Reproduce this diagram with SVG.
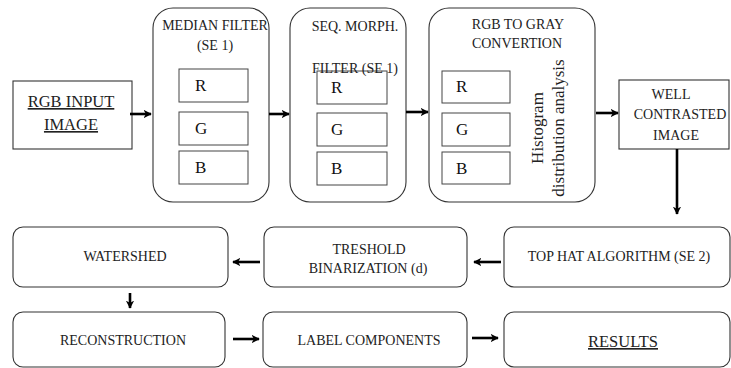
<svg xmlns="http://www.w3.org/2000/svg" width="731" height="368" viewBox="0 0 731 368">
  <defs>
    <marker id="ah" viewBox="0 0 10 10" refX="9" refY="5" markerWidth="3.2" markerHeight="3.2" orient="auto" markerUnits="strokeWidth">
      <path d="M0,0 L10,5 L0,10 L3,5 z" fill="#000"/>
    </marker>
  </defs>
  <style>
    .box { fill: #fff; stroke: #333; stroke-width: 1.1; }
    .ch { fill: #fff; stroke: #444; stroke-width: 1; }
    text { font-family: "Liberation Serif", "Times New Roman", Times, "DejaVu Serif", serif; }
    .t { font-size: 14px; fill: #222; text-anchor: middle; }
    .ct { font-size: 17px; fill: #111; }
    .big { font-size: 16.5px; }
    .u { text-decoration: underline; }
    .arr { stroke: #000; stroke-width: 2.6; fill: none; marker-end: url(#ah); }
  </style>

  <g id="rgb-input">
    <rect class="box" x="13" y="81" width="119" height="68"/>
    <text class="t big u" x="71" y="107">RGB INPUT</text>
    <text class="t big u" x="71" y="130">IMAGE</text>
  </g>

  <g id="median-filter">
    <rect class="box" x="153" y="8" width="116" height="194" rx="20"/>
    <text class="t" x="215" y="30">MEDIAN FILTER</text>
    <text class="t" x="215" y="50">(SE 1)</text>
    <rect class="ch" x="179" y="69" width="69" height="33"/>
    <text class="ct" x="195" y="91">R</text>
    <rect class="ch" x="179" y="112" width="69" height="33"/>
    <text class="ct" x="195" y="134">G</text>
    <rect class="ch" x="179" y="151" width="69" height="33"/>
    <text class="ct" x="195" y="173">B</text>
  </g>

  <g id="seq-morph-filter">
    <rect class="box" x="290" y="8" width="116" height="194" rx="20"/>
    <text class="t" x="355" y="31">SEQ. MORPH.</text>
    <rect class="ch" x="317" y="71" width="70" height="33"/>
    <text class="ct" x="331" y="93">R</text>
    <rect class="ch" x="317" y="113" width="70" height="33"/>
    <text class="ct" x="331" y="135">G</text>
    <rect class="ch" x="317" y="152" width="70" height="33"/>
    <text class="ct" x="331" y="174">B</text>
    <!-- second title line sits on the top edge of the R box -->
    <text class="t" x="355" y="73">FILTER (SE 1)</text>
  </g>

  <g id="rgb-to-gray">
    <rect class="box" x="429" y="8" width="166" height="194" rx="20"/>
    <text class="t" x="518" y="29">RGB TO GRAY</text>
    <text class="t" x="517" y="48">CONVERTION</text>
    <rect class="ch" x="442" y="71" width="68" height="32"/>
    <text class="ct" x="456" y="92">R</text>
    <rect class="ch" x="442" y="113" width="68" height="33"/>
    <text class="ct" x="456" y="135">G</text>
    <rect class="ch" x="442" y="152" width="68" height="32"/>
    <text class="ct" x="456" y="174">B</text>
    <text class="t" style="font-size:17px" transform="translate(543,128) rotate(-90)">Histogram</text>
    <text class="t" style="font-size:17px" transform="translate(564,128) rotate(-90)">distribution analysis</text>
  </g>

  <g id="well-contrasted">
    <rect class="box" x="619" y="80" width="110" height="69"/>
    <text class="t" x="671" y="99">WELL</text>
    <text class="t" x="680" y="119">CONTRASTED</text>
    <text class="t" x="676" y="140">IMAGE</text>
  </g>

  <g id="top-hat">
    <rect class="box" x="504" y="227" width="226" height="60" rx="10"/>
    <text class="t" x="619" y="261">TOP HAT ALGORITHM (SE 2)</text>
  </g>

  <g id="threshold">
    <rect class="box" x="264" y="227" width="203" height="60" rx="10"/>
    <text class="t" x="369" y="254">TRESHOLD</text>
    <text class="t" x="368" y="273">BINARIZATION (d)</text>
  </g>

  <g id="watershed">
    <rect class="box" x="13" y="227" width="215" height="60" rx="10"/>
    <text class="t" x="125" y="261">WATERSHED</text>
  </g>

  <g id="reconstruction">
    <rect class="box" x="13" y="312" width="212" height="55" rx="10"/>
    <text class="t" x="123" y="345">RECONSTRUCTION</text>
  </g>

  <g id="label-components">
    <rect class="box" x="263" y="312" width="204" height="55" rx="10"/>
    <text class="t" x="369" y="345">LABEL COMPONENTS</text>
  </g>

  <g id="results">
    <rect class="box" x="504" y="312" width="226" height="55" rx="10"/>
    <text class="t big u" x="623" y="347">RESULTS</text>
  </g>

  <g id="connectors">
    <line class="arr" x1="130" y1="114" x2="151" y2="114"/>
    <line class="arr" x1="269" y1="114" x2="289" y2="114"/>
    <line class="arr" x1="406" y1="112" x2="428" y2="112"/>
    <line class="arr" x1="596" y1="113" x2="618" y2="113"/>
    <line class="arr" x1="677" y1="149" x2="677" y2="214"/>
    <line class="arr" x1="501" y1="262" x2="474" y2="262"/>
    <line class="arr" x1="260" y1="262" x2="233" y2="262"/>
    <line class="arr" x1="130" y1="293" x2="130" y2="308"/>
    <line class="arr" x1="233" y1="339" x2="259" y2="339"/>
    <line class="arr" x1="472" y1="338" x2="498" y2="338"/>
  </g>
</svg>
